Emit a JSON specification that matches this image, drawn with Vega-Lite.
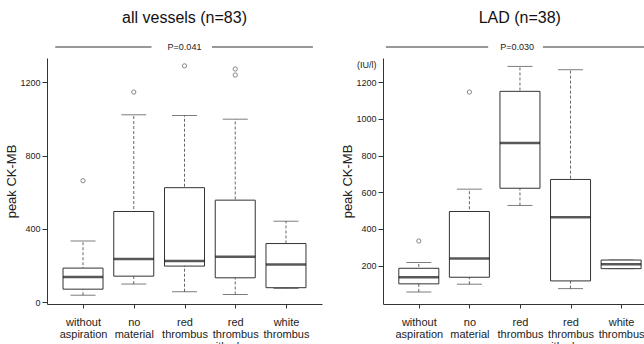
{
  "$schema": "https://vega.github.io/schema/vega-lite/v6.json",
  "padding": {"left": 5, "top": 10, "right": 0, "bottom": 0},
  "spacing": 19,
  "resolve": {"scale": {"y": "independent"}, "axis": {"y": "independent"}},
  "config": {
    "view": {"stroke": null},
    "font": "Liberation Sans",
    "axis": {"grid": false, "domainColor": "#333", "tickColor": "#333", "labelColor": "#222", "titleColor": "#222", "labelOverlap": false},
    "axisY": {"labelOverlap": false, "labelSeparation": -50, "labelBound": false},
    "axisQuantitative": {"labelOverlap": false}
  },
  "hconcat": [
    {
      "width": 275,
      "height": 246,
      "resolve": {"scale": {"x": "independent"}, "axis": {"x": "independent"}},
      "layer": [
        {
          "data": {"values": [
            {"cat": "without aspiration", "lo": 38, "q1": 71, "med": 137, "q3": 186, "hi": 334},
            {"cat": "no material", "lo": 99, "q1": 142, "med": 236, "q3": 495, "hi": 1023},
            {"cat": "red thrombus", "lo": 57, "q1": 197, "med": 225, "q3": 625, "hi": 1019},
            {"cat": "red thrombus with plaque", "lo": 42, "q1": 133, "med": 248, "q3": 557, "hi": 999},
            {"cat": "white thrombus", "lo": 75, "q1": 79, "med": 206, "q3": 320, "hi": 442}
          ]},
          "encoding": {
            "x": {
              "field": "cat", "type": "nominal",
              "scale": {"type": "point", "domain": ["without aspiration", "no material", "red thrombus", "red thrombus with plaque", "white thrombus"], "padding": 0.71, "align": 0.5},
              "axis": {"title": null, "labelAngle": 0, "tickSize": 4, "labelFontSize": 11, "labelPadding": 8, "labelLineHeight": 12, "labelExpr": "datum.value == 'red thrombus with plaque' ? ['red', 'thrombus', 'with plaque'] : split(datum.label, ' ')"}
            }
          },
          "layer": [
            {
              "mark": {"type": "rule", "strokeDash": [3, 2], "color": "#666"},
              "encoding": {
                "y": {"field": "lo", "type": "quantitative", "scale": {"domain": [-10, 1333], "nice": false, "zero": false},
                  "axis": {"title": "peak CK-MB", "values": [0, 200, 400, 600, 800, 1000, 1200, 1300], "format": "d", "labelOverlap": false,
                    "labelExpr": "datum.value == 1300 ? '(IU/l)' : datum.label",
                    "tickOpacity": {"condition": {"test": "datum.value == 1300", "value": 0}, "value": 1},
                    "labelFontSize": 9, "tickSize": 5, "labelPadding": 2, "titleFontSize": 13, "titleFontWeight": "normal", "titlePadding": 1}},
                "y2": {"field": "hi"}
              }
            },
            {"mark": {"type": "tick", "size": 25, "thickness": 1, "color": "#444"}, "encoding": {"y": {"field": "lo", "type": "quantitative"}}},
            {"mark": {"type": "tick", "size": 25, "thickness": 1, "color": "#444"}, "encoding": {"y": {"field": "hi", "type": "quantitative"}}},
            {"mark": {"type": "bar", "size": 40, "fill": "white", "stroke": "#333", "strokeWidth": 1}, "encoding": {"y": {"field": "q1", "type": "quantitative"}, "y2": {"field": "q3"}}},
            {"mark": {"type": "tick", "size": 40, "thickness": 2.5, "color": "#111"}, "encoding": {"y": {"field": "med", "type": "quantitative"}}},
            {
              "data": {"values": [
                {"cat": "without aspiration", "v": 663},
                {"cat": "no material", "v": 1147},
                {"cat": "red thrombus", "v": 1290},
                {"cat": "red thrombus with plaque", "v": 1240},
                {"cat": "red thrombus with plaque", "v": 1273}
              ]},
              "mark": {"type": "point", "shape": "circle", "filled": false, "size": 18, "color": "#555", "strokeWidth": 1},
              "encoding": {"y": {"field": "v", "type": "quantitative"}}
            }
          ]
        },
        {
          "data": {"values": [{}]},
          "layer": [
            {"mark": {"type": "rule", "color": "#333"}, "encoding": {"x": {"datum": 0.03, "type": "quantitative", "scale": {"domain": [0, 1], "nice": false, "zero": false}, "axis": null}, "x2": {"datum": 0.38}, "y": {"datum": 1393, "type": "quantitative"}}},
            {"mark": {"type": "rule", "color": "#333"}, "encoding": {"x": {"datum": 0.6, "type": "quantitative"}, "x2": {"datum": 0.967}, "y": {"datum": 1393, "type": "quantitative"}}},
            {"mark": {"type": "text", "fontSize": 9, "color": "#222", "baseline": "middle"}, "encoding": {"x": {"datum": 0.5, "type": "quantitative"}, "y": {"datum": 1393, "type": "quantitative"}, "text": {"value": "P=0.041"}}},
            {"mark": {"type": "text", "fontSize": 16, "color": "#111", "baseline": "middle"}, "encoding": {"x": {"datum": 0.5, "type": "quantitative"}, "y": {"datum": 1551, "type": "quantitative"}, "text": {"value": "all vessels (n=83)"}}}
          ]
        }
      ]
    },
    {
      "width": 263,
      "height": 246,
      "resolve": {"scale": {"x": "independent"}, "axis": {"x": "independent"}},
      "layer": [
        {
          "data": {"values": [
            {"cat": "without aspiration", "lo": 56, "q1": 100, "med": 136, "q3": 185, "hi": 216},
            {"cat": "no material", "lo": 98, "q1": 136, "med": 238, "q3": 495, "hi": 617},
            {"cat": "red thrombus", "lo": 528, "q1": 622, "med": 869, "q3": 1151, "hi": 1287},
            {"cat": "red thrombus with plaque", "lo": 74, "q1": 116, "med": 463, "q3": 670, "hi": 1269},
            {"cat": "white thrombus", "lo": 183, "q1": 183, "med": 207, "q3": 230, "hi": 230}
          ]},
          "encoding": {
            "x": {
              "field": "cat", "type": "nominal",
              "scale": {"type": "point", "domain": ["without aspiration", "no material", "red thrombus", "red thrombus with plaque", "white thrombus"], "padding": 0.6, "align": 0.59},
              "axis": {"title": null, "labelAngle": 0, "tickSize": 4, "labelFontSize": 11, "labelPadding": 8, "labelLineHeight": 12, "labelExpr": "datum.value == 'red thrombus with plaque' ? ['red', 'thrombus', 'with plaque'] : split(datum.label, ' ')"}
            }
          },
          "layer": [
            {
              "mark": {"type": "rule", "strokeDash": [3, 2], "color": "#666"},
              "encoding": {
                "y": {"field": "lo", "type": "quantitative", "scale": {"domain": [-10, 1333], "nice": false, "zero": false},
                  "axis": {"title": "peak CK-MB", "values": [200, 400, 600, 800, 1000, 1200, 1300], "format": "d", "labelOverlap": false,
                    "labelExpr": "datum.value == 1300 ? '(IU/l)' : datum.label",
                    "tickOpacity": {"condition": {"test": "datum.value == 1300", "value": 0}, "value": 1},
                    "labelFontSize": 9, "tickSize": 5, "labelPadding": 2, "titleFontSize": 13, "titleFontWeight": "normal", "titlePadding": 1}},
                "y2": {"field": "hi"}
              }
            },
            {"mark": {"type": "tick", "size": 25, "thickness": 1, "color": "#444"}, "encoding": {"y": {"field": "lo", "type": "quantitative"}}},
            {"mark": {"type": "tick", "size": 25, "thickness": 1, "color": "#444"}, "encoding": {"y": {"field": "hi", "type": "quantitative"}}},
            {"mark": {"type": "bar", "size": 40, "fill": "white", "stroke": "#333", "strokeWidth": 1}, "encoding": {"y": {"field": "q1", "type": "quantitative"}, "y2": {"field": "q3"}}},
            {"mark": {"type": "tick", "size": 40, "thickness": 2.5, "color": "#111"}, "encoding": {"y": {"field": "med", "type": "quantitative"}}},
            {
              "data": {"values": [
                {"cat": "without aspiration", "v": 334},
                {"cat": "no material", "v": 1147}
              ]},
              "mark": {"type": "point", "shape": "circle", "filled": false, "size": 18, "color": "#555", "strokeWidth": 1},
              "encoding": {"y": {"field": "v", "type": "quantitative"}}
            }
          ]
        },
        {
          "data": {"values": [{}]},
          "layer": [
            {"mark": {"type": "rule", "color": "#333"}, "encoding": {"x": {"datum": 0.011, "type": "quantitative", "scale": {"domain": [0, 1], "nice": false, "zero": false}, "axis": null}, "x2": {"datum": 0.4}, "y": {"datum": 1393, "type": "quantitative"}}},
            {"mark": {"type": "rule", "color": "#333"}, "encoding": {"x": {"datum": 0.608, "type": "quantitative"}, "x2": {"datum": 0.996}, "y": {"datum": 1393, "type": "quantitative"}}},
            {"mark": {"type": "text", "fontSize": 9, "color": "#222", "baseline": "middle"}, "encoding": {"x": {"datum": 0.51, "type": "quantitative"}, "y": {"datum": 1393, "type": "quantitative"}, "text": {"value": "P=0.030"}}},
            {"mark": {"type": "text", "fontSize": 16, "color": "#111", "baseline": "middle"}, "encoding": {"x": {"datum": 0.52, "type": "quantitative"}, "y": {"datum": 1551, "type": "quantitative"}, "text": {"value": "LAD (n=38)"}}}
          ]
        }
      ]
    }
  ]
}
